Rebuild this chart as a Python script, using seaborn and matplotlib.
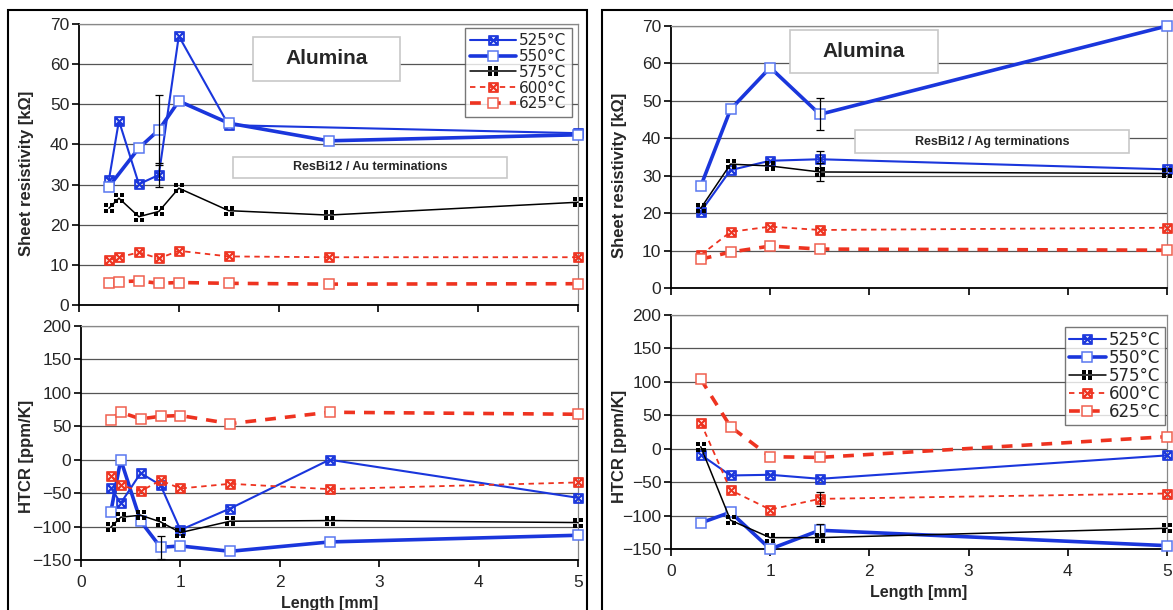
import numpy as np
import seaborn as sns
import matplotlib.pyplot as plt
from matplotlib.patches import Rectangle
from matplotlib.path import Path

nan = np.nan
temps = ['525°C', '550°C', '575°C', '600°C', '625°C']

# ResBi12 / Au terminations
au_len = [0.3, 0.4, 0.6, 0.8, 1.0, 1.5, 2.5, 5.0]
au_rs_525 = [31.2, 45.9, 30.1, 32.4, 67.0, 44.8, nan, 42.8]
au_rs_550 = [29.5, nan, 39.1, 43.6, 50.8, 45.3, 40.9, 42.4]
au_rs_575 = [24.1, 26.6, 22.0, 23.3, 29.1, 23.5, 22.4, 25.6]
au_rs_600 = [11.2, 11.9, 13.1, 11.6, 13.5, 12.1, 11.9, 11.9]
au_rs_625 = [5.6, 5.8, 6.0, 5.4, 5.6, 5.4, 5.2, 5.3]
au_tc_525 = [-42, -65, -20, -38, -105, -73, 0, -57]
au_tc_550 = [-78, 0, -92, -131, -129, -137, -123, -113]
au_tc_575 = [-101, -86, -83, -93, -109, -92, -91, -94]
au_tc_600 = [-24, -38, -47, -31, -43, -36, -44, -34]
au_tc_625 = [60, 71, 61, 65, 66, 54, 71, 68]
# error bars (x, y, err)
au_rs_err = [(0.8, 32.4, 3.0), (0.8, 43.6, 8.6)]
au_tc_err = [(0.8, -131, 17)]

# ResBi12 / Ag terminations
ag_len = [0.3, 0.6, 1.0, 1.5, 5.0]
ag_rs_525 = [20.4, 31.5, 34.0, 34.4, 31.7]
ag_rs_550 = [27.2, 47.7, 58.9, 46.4, 70.0]
ag_rs_575 = [21.3, 33.1, 32.6, 31.0, 30.6]
ag_rs_600 = [8.8, 15.0, 16.4, 15.5, 16.1]
ag_rs_625 = [7.7, 9.6, 11.2, 10.4, 10.1]
ag_tc_525 = [-9, -40, -39, -45, -10]
ag_tc_550 = [-111, -95, -150, -122, -145]
ag_tc_575 = [3, -107, -133, -133, -119]
ag_tc_600 = [39, -62, -91, -75, -67]
ag_tc_625 = [104, 33, -12, -13, 18]
ag_rs_err = [(1.5, 46.4, 4.3), (1.5, 34.4, 2.3), (1.5, 31.0, 2.3)]
ag_tc_err = [(1.5, -75, 10), (1.5, -122, 10)]

sns.set_style('ticks')
plt.rcParams['font.family'] = ['Liberation Sans', 'DejaVu Sans']

BLUE = '#1a36dc'
RED = '#ee3320'

# black square split by a thin white cross, for 575
quad = Path.make_compound_path(*[
    Path([(x, y), (x + 0.85, y), (x + 0.85, y + 0.85), (x, y + 0.85), (x, y)],
         [1, 2, 2, 2, 79])
    for x in (-1, 0.15) for y in (-1, 0.15)])

styles = {
    '525°C': dict(color=BLUE, lw=1.5, ls='-', marker=r'$\boxtimes$', ms=7,
                  mfc=BLUE, mec=BLUE),
    '550°C': dict(color=BLUE, lw=2.6, ls='-', marker='s', ms=7,
                  mfc='white', mec='#5a78f0', mew=1.1),
    '575°C': dict(color='black', lw=1.1, ls='-', marker=quad, ms=6.5,
                  mfc='black', mec='none', mew=0),
    '600°C': dict(color=RED, lw=1.3, ls=(0, (3, 2.5)), marker=r'$\boxtimes$', ms=7,
                  mfc=RED, mec=RED),
    '625°C': dict(color=RED, lw=2.6, ls=(0, (3, 2.5)), marker='s', ms=7,
                  mfc='white', mec='#f06050', mew=1.1),
}

W, H = 1173, 610
fig = plt.figure(figsize=(W / 100, H / 100), dpi=100)


def px_axes(x0, y0, x1, y1):
    return fig.add_axes([x0 / W, 1 - y1 / H, (x1 - x0) / W, (y1 - y0) / H])


def style_axes(ax, ylim, yticks, ylabel, xlabels):
    ax.set_xlim(0, 5)
    ax.set_ylim(*ylim)
    ax.set_yticks(yticks)
    ax.set_xticks(range(6))
    ax.yaxis.grid(True, color='#555555', lw=0.9)
    ax.set_axisbelow(True)
    for s in ['left', 'bottom']:
        ax.spines[s].set_color('black')
        ax.spines[s].set_linewidth(1.3)
    for s in ['top', 'right']:
        ax.spines[s].set_visible(True)
        ax.spines[s].set_color('#888888')
        ax.spines[s].set_linewidth(0.9)
    ax.tick_params(axis='both', direction='out', length=5, width=1.2,
                   labelsize=12.5, color='black', pad=2)
    ax.tick_params(axis='x', pad=6)
    ax.set_ylabel(ylabel, fontsize=12, fontweight='bold')
    if xlabels:
        ax.set_xlabel('Length [mm]', fontsize=11.5, fontweight='bold', labelpad=4)
    else:
        ax.set_xticklabels([])
        ax.set_xlabel('')


def draw(ax, xs, series, errs):
    for t, ys in zip(temps, series):
        st = styles[t]
        sns.lineplot(x=xs, y=ys, ax=ax, label=t, color=st['color'],
                     linewidth=st['lw'], linestyle=st['ls'],
                     marker=st['marker'], markersize=st['ms'],
                     markerfacecolor=st['mfc'], markeredgecolor=st['mec'],
                     markeredgewidth=st.get('mew', 0.6), zorder=3,
                     legend=False, clip_on=False)
    for x, y, e in errs:
        ax.errorbar([x], [y], yerr=[e], fmt='none', ecolor='black',
                    elinewidth=0.9, capsize=3, capthick=0.9, zorder=4,
                    clip_on=True)


def add_legend(ax, anchor, fs, hl, bp, ls):
    h, l = ax.get_legend_handles_labels()
    leg = ax.legend(h, l, loc='upper right', bbox_to_anchor=anchor,
                    frameon=True, fancybox=False,
                    labelspacing=ls, handlelength=hl, handletextpad=0.2,
                    borderpad=bp, borderaxespad=0,
                    prop={'family': 'DejaVu Sans', 'size': fs})
    leg.get_frame().set_edgecolor('#555555')
    leg.get_frame().set_linewidth(1.0)
    leg.set_zorder(10)


def text_box(x0, y0, x1, y1, txt, fs):
    fig.add_artist(Rectangle((x0 / W, 1 - y1 / H), (x1 - x0) / W, (y1 - y0) / H,
                             transform=fig.transFigure, facecolor='white',
                             edgecolor='#c8c8c8', lw=1.2, zorder=20))
    fig.text((x0 + x1) / 2 / W, 1 - (y0 + y1) / 2 / H, txt, ha='center',
             va='center', fontsize=fs, fontweight='bold', zorder=21)


# left panel (Au)
ax1 = px_axes(79, 24, 578, 305)
draw(ax1, au_len, [au_rs_525, au_rs_550, au_rs_575, au_rs_600, au_rs_625], au_rs_err)
style_axes(ax1, (0, 70), range(0, 71, 10), 'Sheet resistivity [kΩ]', False)
add_legend(ax1, (0.988, 0.986), 11, 3.0, 0.35, 0.05)

ax2 = px_axes(81, 326, 578, 560)
draw(ax2, au_len, [au_tc_525, au_tc_550, au_tc_575, au_tc_600, au_tc_625], au_tc_err)
style_axes(ax2, (-150, 200), range(-150, 201, 50), 'HTCR [ppm/K]', True)

# right panel (Ag)
ax3 = px_axes(671, 26, 1167, 288)
draw(ax3, ag_len, [ag_rs_525, ag_rs_550, ag_rs_575, ag_rs_600, ag_rs_625], ag_rs_err)
style_axes(ax3, (0, 70), range(0, 71, 10), 'Sheet resistivity [kΩ]', False)

ax4 = px_axes(671, 315, 1167, 549)
draw(ax4, ag_len, [ag_tc_525, ag_tc_550, ag_tc_575, ag_tc_600, ag_tc_625], ag_tc_err)
style_axes(ax4, (-150, 200), range(-150, 201, 50), 'HTCR [ppm/K]', True)
add_legend(ax4, (0.995, 0.949), 12, 2.2, 0.25, 0.0)

# y label positions (x of label's right edge, in axes fraction)
ax1.yaxis.set_label_coords((34 - 79) / 499, 0.47)
ax2.yaxis.set_label_coords((34 - 81) / 497, 0.444)
ax3.yaxis.set_label_coords((627 - 671) / 496, 0.43)
ax4.yaxis.set_label_coords((627 - 671) / 496, 0.44)

text_box(253, 37, 400, 81, 'Alumina', 15)
text_box(233, 157, 507, 178, 'ResBi12 / Au terminations', 9)
text_box(790, 30, 938, 73, 'Alumina', 15)
text_box(855, 130, 1129, 153, 'ResBi12 / Ag terminations', 9)

# panel frames
for x0, x1 in ((8, 587), (602, 1180)):
    fig.add_artist(Rectangle((x0 / W, -0.01), (x1 - x0) / W, 1 - 10 / H + 0.01,
                             transform=fig.transFigure, fill=False,
                             edgecolor='black', lw=1.5, zorder=0))

fig.savefig('out.png', dpi=100)
